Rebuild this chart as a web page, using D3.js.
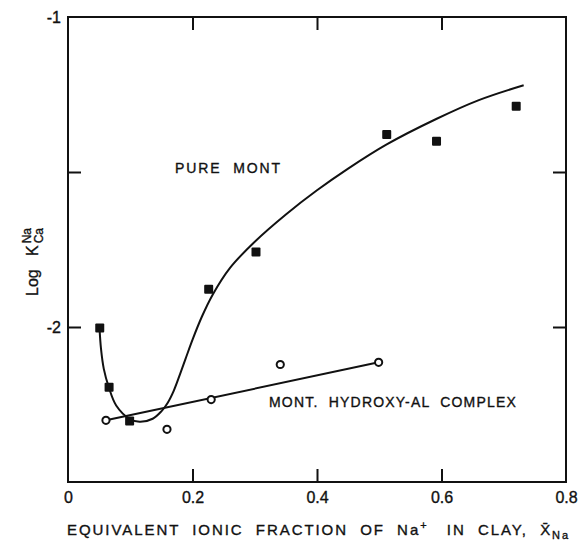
<!DOCTYPE html>
<html>
<head>
<meta charset="utf-8">
<script src="https://cdn.jsdelivr.net/npm/d3@7"></script>
<style>
  body { margin: 0; background: #fff; }
  text { font-family: "Liberation Sans", Arial, sans-serif; fill: #111; stroke: #111; stroke-width: 0.35px; }
</style>
</head>
<body>
<svg id="chart" width="579" height="540"></svg>
<script>
// pure montmorillonite, filled squares
var pureX = [0.051, 0.066, 0.099, 0.226, 0.302, 0.512, 0.592, 0.720]
var pureY = [-2.003, -2.194, -2.303, -1.878, -1.758, -1.379, -1.401, -1.288]

// hand drawn curve through the pure mont points
var curveX = [0.0506, 0.053, 0.0575, 0.0655, 0.0774, 0.0988, 0.115, 0.136, 0.150, 0.160, 0.170, 0.180, 0.190, 0.2004, 0.215, 0.2326, 0.260, 0.300, 0.350, 0.400, 0.450, 0.512, 0.5915, 0.660, 0.732]
var curveY = [-2.003, -2.070, -2.135, -2.194, -2.253, -2.296, -2.306, -2.296, -2.272, -2.245, -2.205, -2.152, -2.096, -2.039, -1.967, -1.895, -1.810, -1.725, -1.637, -1.559, -1.489, -1.411, -1.329, -1.268, -1.220]

// mont. hydroxy-Al complex, open circles
var hydroX = [0.061, 0.159, 0.230, 0.341, 0.499]
var hydroY = [-2.301, -2.330, -2.234, -2.121, -2.114]

// straight fit line for the complex
var fitX = [0.061, 0.499]
var fitY = [-2.301, -2.114]

var xTicks = [0, 0.2, 0.4, 0.6, 0.8]
var xTickLabels = ['0', '0.2', '0.4', '0.6', '0.8']
var yTicks = [-1, -1.5, -2]
var yTickLabels = ['-1', '', '-2']

var xDomain = [0, 0.8]
var yDomain = [-2.5, -1]

const margin = { top: 17, right: 13, bottom: 58, left: 68 }
const fix_width = 579
const fix_height = 540
const width = fix_width - margin.left - margin.right
const height = fix_height - margin.top - margin.bottom

const svg = d3.select('#chart')
const g = svg.append('g').attr('transform', `translate(${margin.left},${margin.top})`)

var x = d3.scaleLinear().domain(xDomain).range([0, width])
var y = d3.scaleLinear().domain(yDomain).range([height, 0])

var stroke_color = '#111'
var tick_len = 13

// frame
g.append('rect')
  .attr('x', 0).attr('y', 0)
  .attr('width', width).attr('height', height)
  .attr('fill', 'none')
  .attr('stroke', stroke_color)
  .attr('stroke-width', 2)

// bottom axis: inward ticks, labels below
var xAxis = g.append('g')
  .attr('transform', `translate(0,${height})`)
  .call(d3.axisBottom(x).tickValues(xTicks).tickSize(-tick_len).tickPadding(10)
    .tickFormat((d, i) => xTickLabels[i]))
xAxis.selectAll('line').attr('stroke', stroke_color).attr('stroke-width', 2)
  .attr('opacity', d => (d == 0 || d == 0.8) ? 0 : 1)

// top ticks
var xTop = g.append('g')
  .call(d3.axisTop(x).tickValues(xTicks.slice(1, 4)).tickSize(-tick_len).tickFormat(''))
xTop.selectAll('line').attr('stroke', stroke_color).attr('stroke-width', 2)

// left axis
var yAxis = g.append('g')
  .call(d3.axisLeft(y).tickValues(yTicks).tickSize(-tick_len).tickPadding(7)
    .tickFormat((d, i) => yTickLabels[i]))
yAxis.selectAll('line').attr('stroke', stroke_color).attr('stroke-width', 2)
  .attr('opacity', d => d == -1 ? 0 : 1)

// right ticks
var yRight = g.append('g')
  .attr('transform', `translate(${width},0)`)
  .call(d3.axisRight(y).tickValues(yTicks.slice(1)).tickSize(-tick_len).tickFormat(''))
yRight.selectAll('line').attr('stroke', stroke_color).attr('stroke-width', 2)

svg.selectAll('.domain').remove()
svg.selectAll('.tick text')
  .style('font-size', '16px')
  .attr('fill', '#111')
  .style('font-family', '"Liberation Sans", Arial, sans-serif')

// pure mont curve
var curve_pts = curveX.map((d, i) => [d, curveY[i]])
g.append('path')
  .datum(curve_pts)
  .attr('d', d3.line().x(d => x(d[0])).y(d => y(d[1])).curve(d3.curveCatmullRom.alpha(0.5)))
  .attr('fill', 'none')
  .attr('stroke', stroke_color)
  .attr('stroke-width', 2)

// hydroxy-Al fit line
var fit_pts = fitX.map((d, i) => [d, fitY[i]])
g.append('path')
  .datum(fit_pts)
  .attr('d', d3.line().x(d => x(d[0])).y(d => y(d[1])))
  .attr('fill', 'none')
  .attr('stroke', stroke_color)
  .attr('stroke-width', 2)

// filled squares
var sq = 9
g.selectAll('.sq')
  .data(pureX.map((d, i) => [d, pureY[i]]))
  .enter()
  .append('rect')
  .attr('x', d => x(d[0]) - sq / 2)
  .attr('y', d => y(d[1]) - sq / 2)
  .attr('width', sq).attr('height', sq)
  .attr('rx', 1)
  .attr('fill', stroke_color)

// open circles
g.selectAll('.circ')
  .data(hydroX.map((d, i) => [d, hydroY[i]]))
  .enter()
  .append('circle')
  .attr('cx', d => x(d[0]))
  .attr('cy', d => y(d[1]))
  .attr('r', 3.6)
  .attr('fill', '#fff')
  .attr('stroke', stroke_color)
  .attr('stroke-width', 2)

// stretch a text element to a target width with letter spacing
var fit_width = function (sel, target) {
  var n = sel.text().length
  var w = sel.node().getComputedTextLength()
  sel.attr('letter-spacing', (target - w) / n)
}

// annotations
var t1 = svg.append('text')
  .attr('x', 175).attr('y', 173)
  .style('font-size', '14px')
  .attr('xml:space', 'preserve')
  .text('PURE  MONT')
fit_width(t1, 107)

var t2 = svg.append('text')
  .attr('x', 269).attr('y', 407)
  .style('font-size', '14px')
  .attr('xml:space', 'preserve')
  .text('MONT.  HYDROXY-AL  COMPLEX')
fit_width(t2, 248)

// x axis title
var xt = svg.append('text')
  .attr('x', 67).attr('y', 535)
  .style('font-size', '15px')
  .attr('xml:space', 'preserve')
xt.append('tspan').text('EQUIVALENT  IONIC  FRACTION  OF  Na')
xt.append('tspan').attr('dy', -6).style('font-size', '11px').text('+')
xt.append('tspan').attr('dy', 6).text('   IN  CLAY,  X\u0304')
xt.append('tspan').attr('dy', 4).style('font-size', '11px').text('Na')
fit_width(xt, 505)

// y axis title
var yt = svg.append('g').attr('transform', 'translate(38,296) rotate(-90)')
var ylog = yt.append('text')
  .attr('x', 0).attr('y', 0)
  .style('font-size', '16px')
  .attr('xml:space', 'preserve')
  .text('Log   K')
var klen = ylog.node().getComputedTextLength()
yt.append('text')
  .attr('x', klen + 2).attr('y', -7)
  .style('font-size', '12px')
  .text('Na')
yt.append('text')
  .attr('x', klen + 2).attr('y', 5)
  .style('font-size', '12px')
  .text('Ca')
</script>
</body>
</html>
